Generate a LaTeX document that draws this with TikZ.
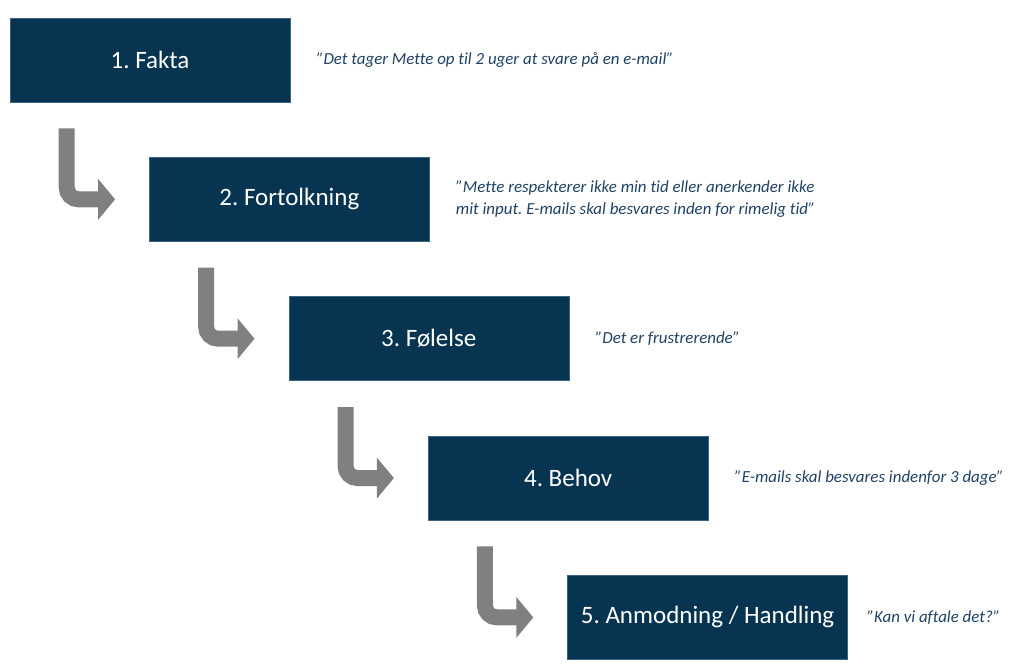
\documentclass[tikz,border=0pt]{standalone}
\usepackage{fontspec}
\setmainfont{Carlito}[Ligatures=NoCommon]
\usepackage{tikz}
\usetikzlibrary{positioning, arrows.meta, calc}
\usepackage{xcolor}
\definecolor{fase-blue}{HTML}{073551}
\definecolor{fase-edge}{HTML}{3C6384}
\definecolor{quote-blue}{HTML}{1F4264}
\definecolor{pil-grey}{HTML}{808080}
\frenchspacing

\begin{document}
\begin{tikzpicture}[node distance=54.75pt and 26pt,
	fase/.style={rectangle, fill=fase-blue, draw=fase-edge, line width=0.6pt, minimum width=280pt, minimum height=84pt, inner sep=0pt, text=white, font=\fontsize{25}{30}\selectfont},
	citat/.style={inner sep=0pt, text=quote-blue, align=left, font=\itshape\fontsize{16.9}{22}\selectfont},
	pil/.style={-{Triangle[width=40pt,length=17pt]}, line width=16pt, pil-grey, rounded corners=12pt}]
	\useasboundingbox (0,0) rectangle (1024pt,-667pt);
	\node[fase] (f1) at (150pt,-60pt) {1. Fakta};
	\node[fase, below =of f1, xshift=139.4pt] (f2) {2. Fortolkning};
	\node[fase, below =of f2, xshift=139.4pt] (f3) {3. Følelse};
	\node[fase, below =of f3, xshift=139.4pt] (f4) {4. Behov};
	\node[fase, below =of f4, xshift=139.4pt] (f5) {5. Anmodning / Handling};
	\node[citat, right =of f1] (q1) {”Det tager Mette op til 2 uger at svare på en e-mail”};
	\node[citat, right =of f2] (q2) {”Mette respekterer ikke min tid eller anerkender ikke\\mit input. E-mails skal besvares inden for rimelig tid”};
	\node[citat, right =of f3] (q3) {”Det er frustrerende”};
	\node[citat, right =of f4] (q4) {”E-mails skal besvares indenfor 3 dage”};
	\node[citat, right =19pt of f5] (q5) {”Kan vi aftale det?”};
	% pile mellem faserne
	\coordinate (a1) at ($(f1.south west)+(57pt,-26pt)$);
	\coordinate (a2) at ($(f2.south west)+(57pt,-26pt)$);
	\coordinate (a3) at ($(f3.south west)+(57pt,-26pt)$);
	\coordinate (a4) at ($(f4.south west)+(57pt,-26pt)$);
	\coordinate (b1) at ($(f2.west)+(-34pt,0pt)$);
	\coordinate (b2) at ($(f3.west)+(-34pt,0pt)$);
	\coordinate (b3) at ($(f4.west)+(-34pt,0pt)$);
	\coordinate (b4) at ($(f5.west)+(-34pt,0pt)$);
	\draw[pil] (a1) |- (b1);
	\draw[pil] (a2) |- (b2);
	\draw[pil] (a3) |- (b3);
	\draw[pil] (a4) |- (b4);
\end{tikzpicture}
\end{document}
